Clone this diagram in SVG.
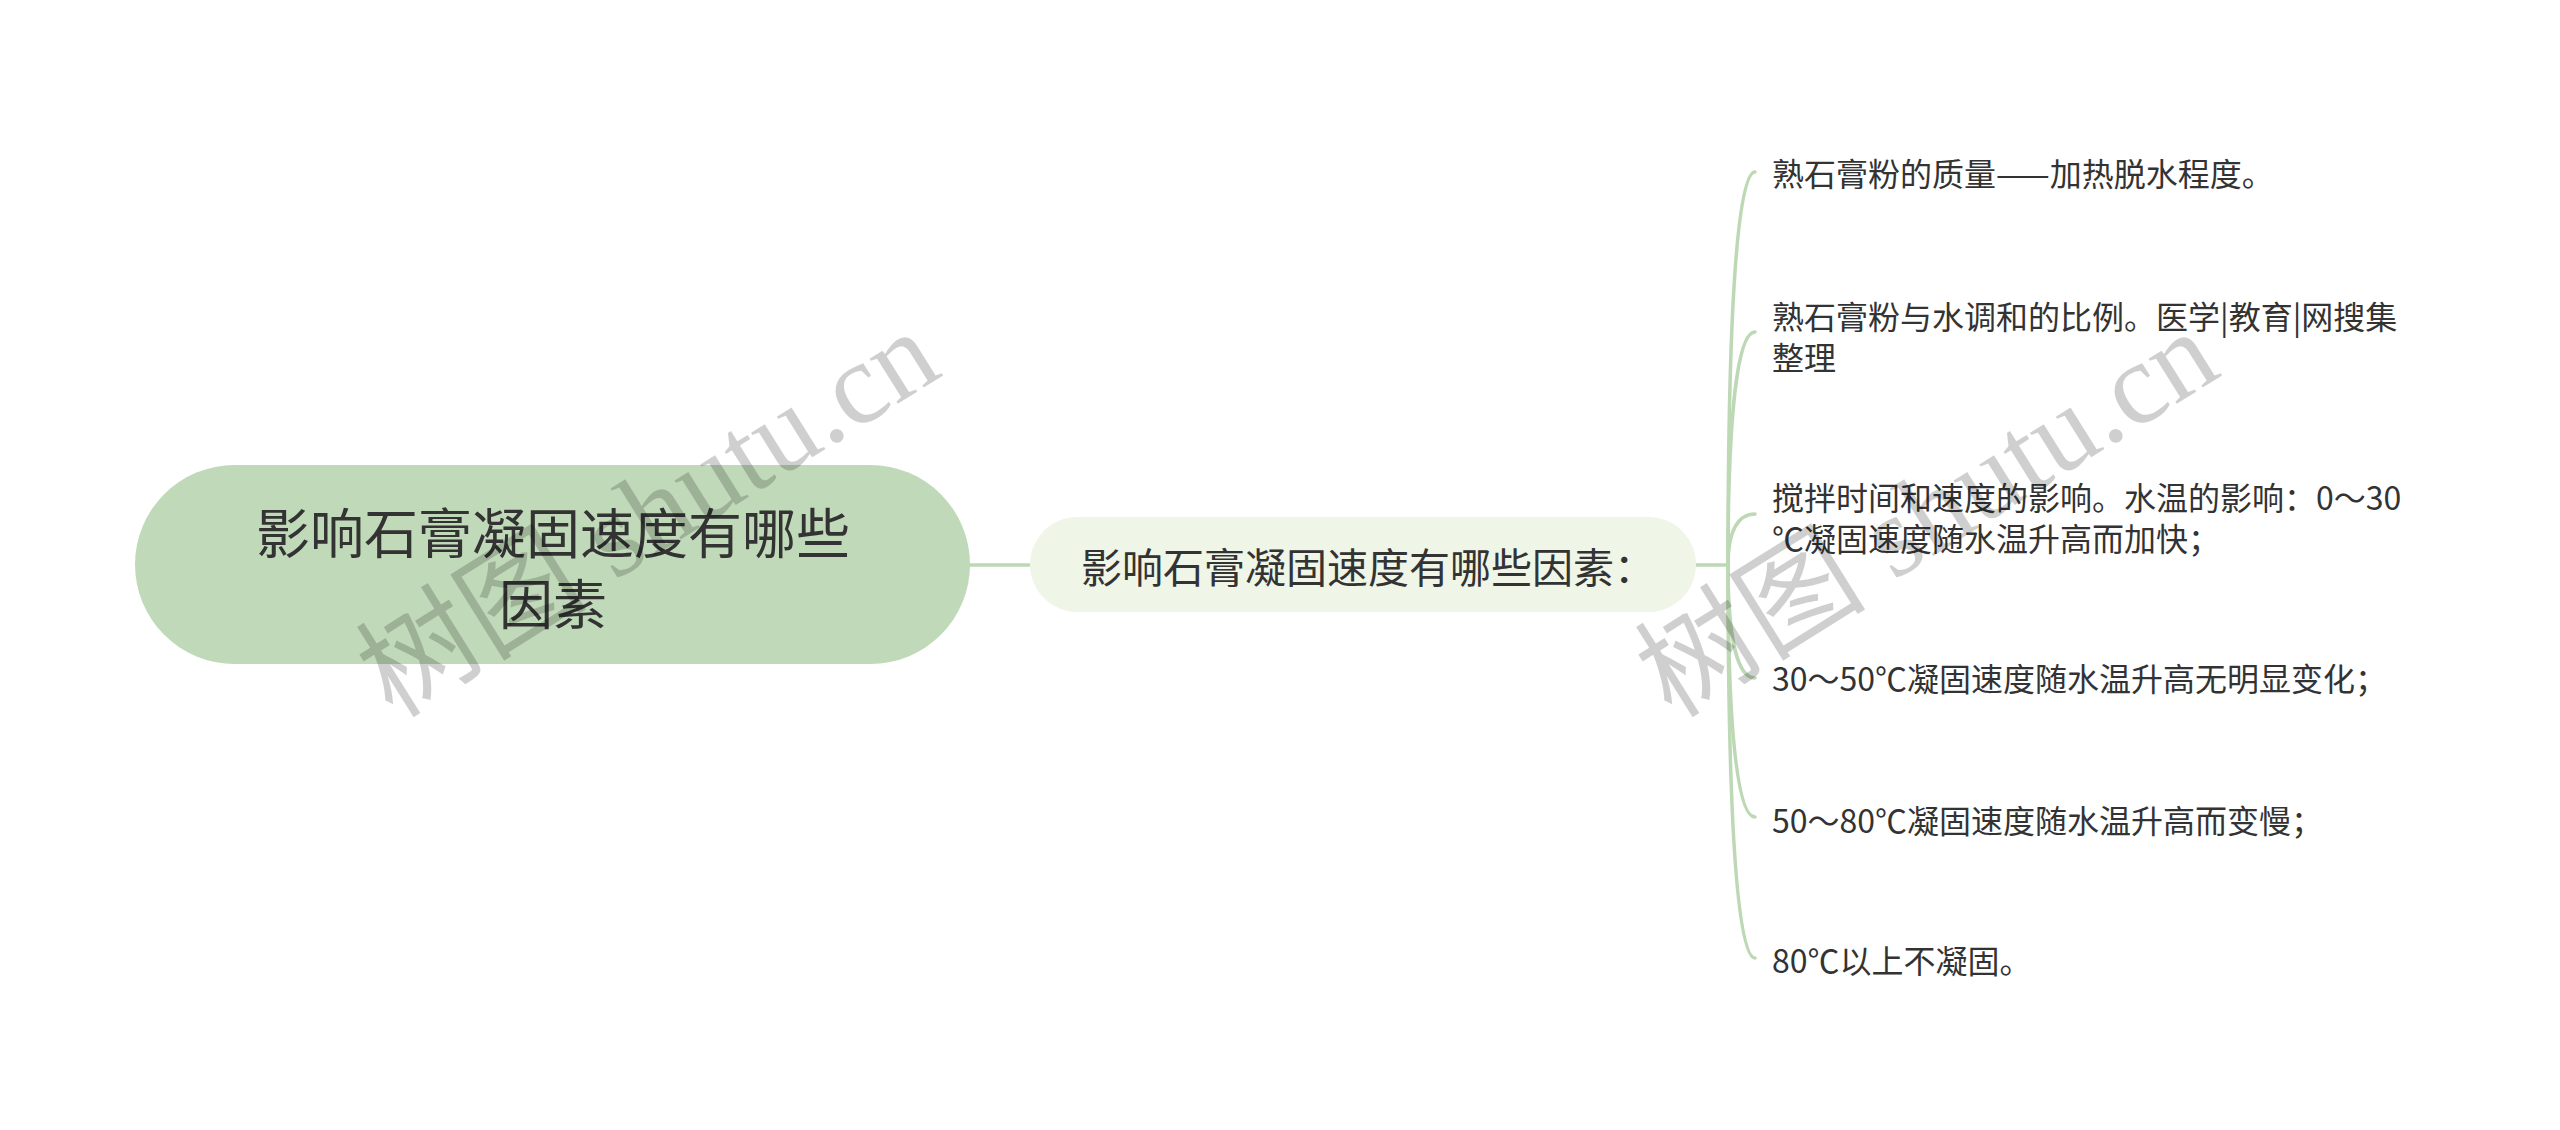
<svg xmlns="http://www.w3.org/2000/svg" width="2560" height="1130" viewBox="0 0 2560 1130">
<style>
.bg{fill:#ffffff}
.conn{fill:none;stroke:#bdd8b4;stroke-width:3.5;stroke-linecap:round}
.root{fill:#c0dab9}
.mid{fill:#eff5e7}
.t{font-family:"Noto Sans CJK SC","Noto Sans",sans-serif;fill:#333333}
.rt{font-size:54px}
.mt{font-size:41px}
.lt{font-size:32px}
.wm{font-family:"Liberation Serif","Noto Sans CJK SC",serif;font-size:116px;fill:#000000;fill-opacity:0.19}
</style>
<rect class="bg" x="0" y="0" width="2560" height="1130"/>
<g id="connectors">
<line class="conn" x1="970" y1="565" x2="1030" y2="565"/>
<line class="conn" x1="1696" y1="565" x2="1728" y2="565"/>
<path class="conn" d="M1728,565 C1728,302 1738,172 1755,172"/>
<path class="conn" d="M1728,565 C1728,411 1738,332 1755,332"/>
<path class="conn" d="M1728,565 C1728,531 1738,514 1755,514"/>
<path class="conn" d="M1728,565 C1728,641 1738,678 1755,678"/>
<path class="conn" d="M1728,565 C1728,737 1738,817 1755,817"/>
<path class="conn" d="M1728,565 C1728,830 1738,958 1755,958"/>
</g>
<g id="root">
<rect class="root" x="135" y="465" width="835" height="199" rx="99.5" ry="99.5"/>
<text class="t rt" x="553" y="530" text-anchor="middle" dominant-baseline="central">影响石膏凝固速度有哪些</text>
<text class="t rt" x="553" y="601" text-anchor="middle" dominant-baseline="central">因素</text>
</g>
<g id="mid">
<rect class="mid" x="1030" y="517" width="666" height="95" rx="47.5" ry="47.5"/>
<text class="t mt" x="1081" y="565" dominant-baseline="central">影响石膏凝固速度有哪些因素：</text>
</g>
<g id="leaf1">
<text class="t lt" x="1772" y="172" dominant-baseline="central">熟石膏粉的质量——加热脱水程度。</text>
</g>
<g id="leaf2">
<text class="t lt" x="1772" y="315" dominant-baseline="central">熟石膏粉与水调和的比例。医学|教育|网搜集</text>
<text class="t lt" x="1772" y="356" dominant-baseline="central">整理</text>
</g>
<g id="leaf3">
<text class="t lt" x="1772" y="496" dominant-baseline="central">搅拌时间和速度的影响。水温的影响：0～30</text>
<text class="t lt" x="1772" y="537" dominant-baseline="central">℃凝固速度随水温升高而加快；</text>
</g>
<g id="leaf4">
<text class="t lt" x="1772" y="677" dominant-baseline="central">30～50℃凝固速度随水温升高无明显变化；</text>
</g>
<g id="leaf5">
<text class="t lt" x="1772" y="819" dominant-baseline="central">50～80℃凝固速度随水温升高而变慢；</text>
</g>
<g id="leaf6">
<text class="t lt" x="1772" y="959" dominant-baseline="central">80℃以上不凝固。</text>
</g>
<g id="watermarks">
<text class="wm" x="648" y="514" text-anchor="middle" dominant-baseline="central" transform="rotate(-32 648 514)">树图 shutu.cn</text>
<text class="wm" x="1927" y="514" text-anchor="middle" dominant-baseline="central" transform="rotate(-32 1927 514)">树图 shutu.cn</text>
</g>
</svg>
